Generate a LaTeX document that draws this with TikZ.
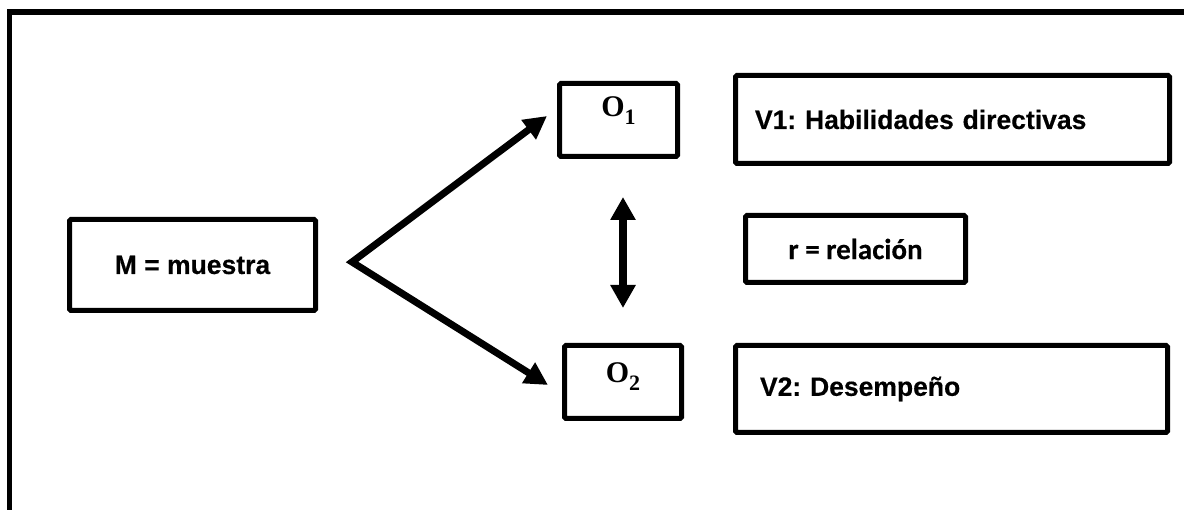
\documentclass[tikz,border=0pt]{standalone}
\usepackage[no-math]{fontspec}
\setmainfont{Liberation Sans}[BoldFeatures={FakeBold=0.4}]
\newfontfamily\calibfont{Carlito}[BoldFeatures={FakeBold=0.3}]
\newfontfamily\seriffont{Liberation Serif}
\usetikzlibrary{arrows.meta}
\newcommand{\obsfont}{\seriffont\bfseries\fontsize{30}{34}\selectfont}
\newcommand{\obssub}[1]{\raisebox{-8pt}{\fontsize{22}{24}\selectfont #1}}
\begin{document}
\frenchspacing
\begin{tikzpicture}[x=1pt,y=-1pt,
  box/.style={draw, line width=5pt, rounded corners=1.5pt, inner sep=0pt,
    font=\fontsize{26.5}{31}\selectfont\bfseries},
  obox/.style={draw, line width=5pt, rounded corners=1.5pt, inner sep=0pt,
    text height=19pt, font=\obsfont},
  bigarrow/.style={line width=7pt, line join=miter,
    {Triangle[length=23pt,width=23pt]}-{Triangle[length=23pt,width=23pt]}},
  dblarrow/.style={line width=7.5pt,
    {Triangle[length=23pt,width=24pt]}-{Triangle[length=23pt,width=24pt]}}]
\useasboundingbox (0,0) rectangle (1184,510);
\clip (0,0) rectangle (1184,510);
\draw[line width=5.5pt] (9.5,12) rectangle (1220,540);
\node[box, minimum width=246pt, minimum height=91pt] (M) at (192.5,265) {M = muestra};
\node[obox, minimum width=118pt, minimum height=73pt, text depth=25pt] (O1) at (618.5,120) {O\obssub{1}};
\node[obox, minimum width=117pt, minimum height=73pt, text depth=17pt] (O2) at (623,382) {O\obssub{2}};
\node[box, minimum width=434pt, minimum height=88pt, text width=395pt, align=left] (V1) at (952.5,119.5) {V1: Habilidades directivas};
\node[box, minimum width=432pt, minimum height=87pt, text width=383pt, align=left] (V2) at (951.5,389) {V2: Desempeño};
\node[box, minimum width=220pt, minimum height=67pt, font=\calibfont\fontsize{29}{34}\selectfont\bfseries] (r) at (855.5,249) {r = relación};
\coordinate (apex) at (352,262);
\coordinate (t1) at (547,116);
\coordinate (t2) at (548,385);
\draw[bigarrow] (t1) -- (apex) -- (t2);
\coordinate (d1) at (623,197);
\coordinate (d2) at (623,308);
\draw[dblarrow] (d1) -- (d2);
\end{tikzpicture}
\end{document}
